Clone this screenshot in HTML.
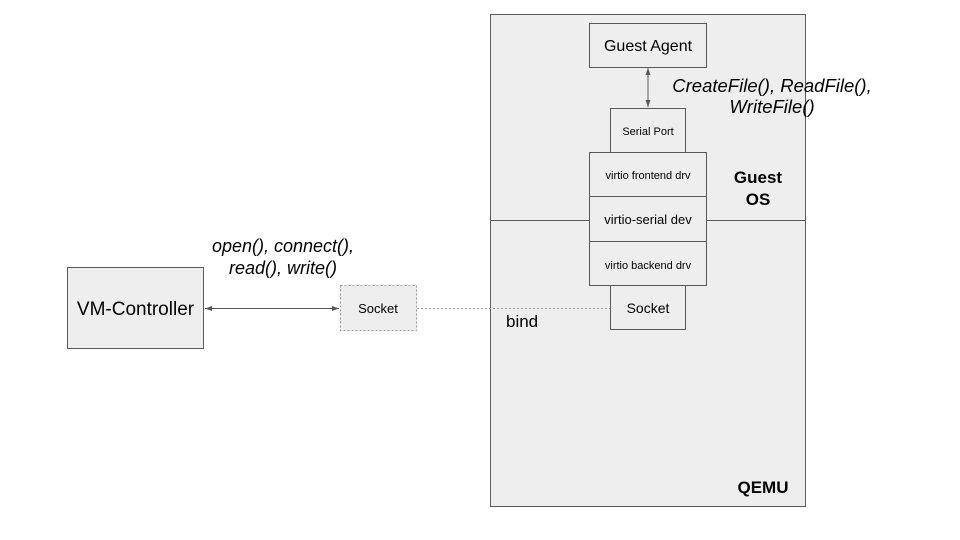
<!DOCTYPE html>
<html><head><style>html,body{margin:0;padding:0;background:#fff}svg{display:block}</style></head>
<body>
<svg width="960" height="540" viewBox="0 0 960 540" xmlns="http://www.w3.org/2000/svg" font-family="Liberation Sans, Arial, sans-serif">
<defs>
<marker id="a" markerWidth="8" markerHeight="8" refX="7" refY="4" orient="auto-start-reverse" markerUnits="userSpaceOnUse"><path d="M0,1.5 L7,4 L0,6.5 Z" fill="#595959"/></marker>
</defs>
<rect x="490.5" y="14.5" width="315" height="492" fill="#eeeeee" stroke="#595959" stroke-width="1"/>
<line x1="490.5" y1="220.5" x2="805.5" y2="220.5" stroke="#595959"/>
<rect x="589.5" y="23.5" width="117" height="44" fill="#eeeeee" stroke="#595959"/>
<text x="648" y="51" font-size="16" text-anchor="middle" fill="#000">Guest Agent</text>
<line x1="648" y1="68" x2="648" y2="107" stroke="#595959" marker-start="url(#a)" marker-end="url(#a)"/>
<text x="772" y="92" font-size="18.5" font-style="italic" text-anchor="middle">CreateFile(), ReadFile(),</text>
<text x="772" y="113" font-size="18.5" font-style="italic" text-anchor="middle">WriteFile()</text>
<rect x="610.5" y="108.5" width="75" height="44" fill="#eeeeee" stroke="#595959"/>
<text x="648" y="135" font-size="11" text-anchor="middle">Serial Port</text>
<rect x="589.5" y="152.5" width="117" height="44" fill="#eeeeee" stroke="#595959"/>
<text x="648" y="179" font-size="11" text-anchor="middle">virtio frontend drv</text>
<rect x="589.5" y="196.5" width="117" height="45" fill="#eeeeee" stroke="#595959"/>
<text x="648" y="224" font-size="13" text-anchor="middle">virtio-serial dev</text>
<rect x="589.5" y="241.5" width="117" height="44" fill="#eeeeee" stroke="#595959"/>
<text x="648" y="269" font-size="11" text-anchor="middle">virtio backend drv</text>
<rect x="610.5" y="285.5" width="75" height="44" fill="#eeeeee" stroke="#595959"/>
<text x="648" y="313" font-size="14" text-anchor="middle">Socket</text>
<text x="758" y="183" font-size="17" font-weight="bold" text-anchor="middle">Guest</text>
<text x="758" y="205" font-size="17" font-weight="bold" text-anchor="middle">OS</text>
<text x="763" y="493" font-size="17" font-weight="bold" text-anchor="middle">QEMU</text>
<text x="506" y="327" font-size="17">bind</text>
<rect x="67.5" y="267.5" width="136" height="81" fill="#eeeeee" stroke="#595959"/>
<text x="135.5" y="315" font-size="19" text-anchor="middle">VM-Controller</text>
<line x1="205" y1="308.5" x2="339" y2="308.5" stroke="#595959" marker-start="url(#a)" marker-end="url(#a)"/>
<rect x="340.5" y="285.5" width="76" height="45" fill="#eeeeee" stroke="#999" stroke-dasharray="2,2"/>
<text x="378" y="313" font-size="13" text-anchor="middle">Socket</text>
<line x1="417" y1="308.5" x2="610" y2="308.5" stroke="#999" stroke-dasharray="2,2"/>
<text x="283" y="252" font-size="18" font-style="italic" text-anchor="middle">open(), connect(),</text>
<text x="283" y="274" font-size="18" font-style="italic" text-anchor="middle">read(), write()</text>
</svg>
</body></html>
